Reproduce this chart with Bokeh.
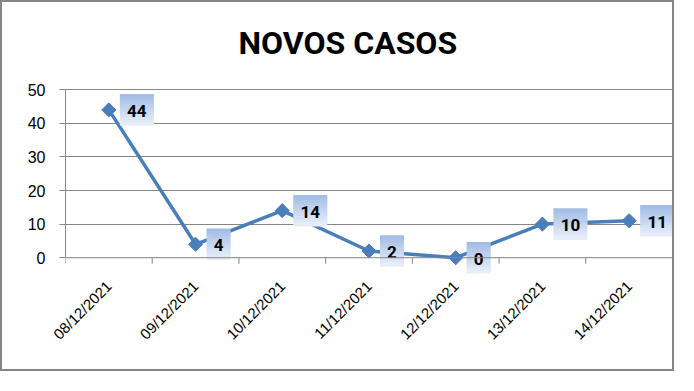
from bokeh.plotting import figure
from bokeh.models import Range1d, FixedTicker, ColumnDataSource, Label, Span
from bokeh.core.properties import value
from bokeh.embed import file_html
from bokeh.resources import INLINE
import math

# ---- data ----
dates = ["08/12/2021", "09/12/2021", "10/12/2021", "11/12/2021",
         "12/12/2021", "13/12/2021", "14/12/2021"]
cases = [44, 4, 14, 2, 0, 10, 11]
y_ticks = [0, 10, 20, 30, 40, 50]
title_text = "NOVOS CASOS"

# ---- layout constants ----
BW = 2
W, H = 678 - 2 * BW, 375 - 2 * BW
PX_PER_UNIT = 3.36
XMIN, XMAX = -0.5, len(dates) - 0.5
YMIN, YMAX = -5, 73
ML, MR, MT = 63, 4, 10
FH = (YMAX - YMIN) * PX_PER_UNIT
MB = int(round(H - MT - FH))
FW = W - ML - MR
FH = H - MT - MB
x_per_px = (XMAX - XMIN) / FW
y_per_px = (YMAX - YMIN) / FH

BLUE = "#4a7ebb"
GRAY = "#868686"
TITLE_FONT = "Roboto"
LABEL_FONT = "Roboto"
TICK_FONT = "Liberation Sans"

p = figure(width=W, height=H, output_backend="svg", toolbar_location=None,
           x_range=Range1d(XMIN, XMAX), y_range=Range1d(YMIN, YMAX),
           min_border_left=ML, min_border_right=MR, min_border_top=MT,
           min_border_bottom=MB)
p.styles = {"border": "%dpx solid #868686" % BW}
p.outline_line_color = None
p.background_fill_color = "white"
p.border_fill_color = "white"

# title (screen units relative to the frame's bottom-left)
p.add_layout(Label(x=173, y=FH + MT - 40, x_units="screen", y_units="screen",
                   text=title_text, text_font=TITLE_FONT, text_font_size="32px",
                   text_font_style="bold", text_color="black",
                   text_align="left", text_baseline="alphabetic"))

# x axis: labels only; line and boundary ticks drawn at y=0
xi = list(range(len(dates)))
bounds_x = [i - 0.5 for i in range(len(dates) + 1)]
p.xaxis.ticker = FixedTicker(ticks=xi)
p.xaxis.major_label_overrides = {i: d for i, d in enumerate(dates)}
p.xaxis.major_label_orientation = math.pi / 4
p.xaxis.major_tick_line_color = None
p.xaxis.minor_tick_line_color = None
p.xaxis.axis_line_color = None
p.xaxis.major_label_text_font = TICK_FONT
p.xaxis.major_label_text_font_size = "15px"
p.xaxis.major_label_text_color = "black"
p.xaxis.major_label_standoff = 3

p.add_layout(Span(location=0, dimension="width", line_color=GRAY, line_width=1))
tick_len = 6 * y_per_px
p.segment(x0=bounds_x, y0=[0] * len(bounds_x), x1=bounds_x,
          y1=[-tick_len] * len(bounds_x), line_color=GRAY, line_width=1)

p.yaxis.ticker = FixedTicker(ticks=y_ticks)
p.yaxis.bounds = (0, 50)
p.yaxis.axis_line_color = GRAY
p.yaxis.major_tick_line_color = GRAY
p.yaxis.major_tick_out = 6
p.yaxis.major_tick_in = 0
p.yaxis.minor_tick_line_color = None
p.yaxis.major_label_text_font = TICK_FONT
p.yaxis.major_label_text_font_size = "16px"
p.yaxis.major_label_text_color = "black"
p.yaxis.major_label_standoff = 14

p.xgrid.grid_line_color = None
p.ygrid.grid_line_color = GRAY
p.ygrid.ticker = FixedTicker(ticks=y_ticks[1:])

# line + markers
src = ColumnDataSource(dict(x=xi, y=cases))
p.line("x", "y", source=src, line_color=BLUE, line_width=3.5)
p.scatter("x", "y", source=src, marker="square", angle=math.pi / 4,
          size=10, fill_color=BLUE, line_color=BLUE)

# data labels with gradient boxes
labels = [str(v) for v in cases]
box_w = [14 + 10 * len(s) for s in labels]
box_h = 31
gap = 11
N = 12
top = (0xa3, 0xbd, 0xe6)
bot = (0xe8, 0xee, 0xf9)
bx = [x + (gap + w / 2) * x_per_px for x, w in zip(xi, box_w)]
for k in range(N):
    t = k / (N - 1)
    c = "#%02x%02x%02x" % tuple(int(round(a + (b - a) * t)) for a, b in zip(top, bot))
    off_px = box_h / 2 - (k + 0.5) * box_h / N
    ys = [v + off_px * y_per_px for v in cases]
    p.rect(x=bx, y=ys, width=box_w, height=box_h / N + 0.6, width_units="screen",
           height_units="screen", fill_color=c, line_color=None)

p.text(x=bx, y=cases, text=labels, text_align="center", text_baseline="middle",
       text_font=value(LABEL_FONT), text_font_size="17px", text_font_style="bold",
       text_color="black", y_offset=1)

open("out.html", "w").write(file_html(p, INLINE))
